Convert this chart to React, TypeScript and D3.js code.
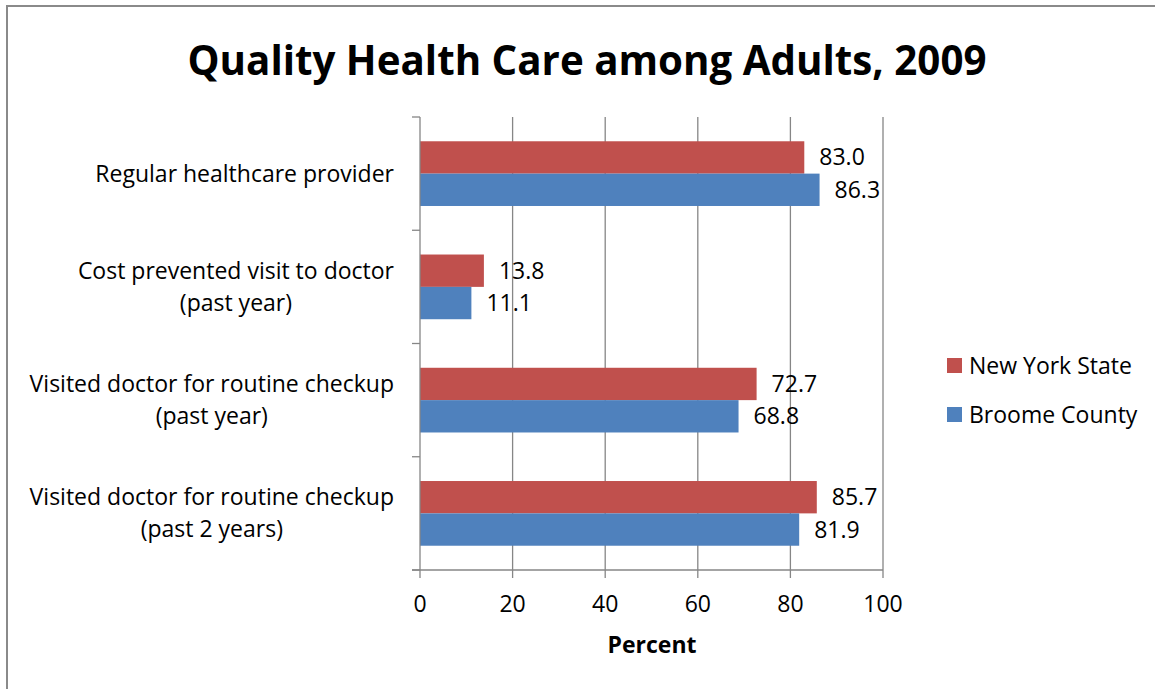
import React from "react";
import * as d3 from "d3";

const categories: string[][] = [
  ["Regular healthcare provider"],
  ["Cost prevented visit to doctor", "(past year)"],
  ["Visited doctor for routine checkup", "(past year)"],
  ["Visited doctor for routine checkup", "(past 2 years)"],
];
const seriesNames = ["New York State", "Broome County"];
const nyValues = [83.0, 13.8, 72.7, 85.7];
const broomeValues = [86.3, 11.1, 68.8, 81.9];
const xTicks = [0, 20, 40, 60, 80, 100];
const colors = ["#C0504D", "#4F81BD"];

const W = 1155;
const H = 689;
const FONT = "'Open Sans', sans-serif";
const FS = 23;

function measure(text: string, size: number, weight = "normal"): number {
  if (typeof document === "undefined") return text.length * size * 0.5;
  const c = document.createElement("canvas").getContext("2d");
  if (!c) return text.length * size * 0.5;
  c.font = `${weight} ${size}px 'Open Sans'`;
  return c.measureText(text).width;
}

export default function App() {
  const left = 420, right = 883, top = 117, bottom = 570;
  const x = d3.scaleLinear().domain([0, 100]).range([left, right]);
  const band = (bottom - top) / categories.length;
  const barH = band / 3.5;
  const inner = d3.scaleBand<number>().domain([0, 1]).range([0, barH * 2]);
  const series = [nyValues, broomeValues];
  const [, force] = React.useState(0);
  React.useEffect(() => {
    (document as any).fonts?.ready?.then(() => force((v) => v + 1));
  }, []);

  return (
    <svg width={W} height={H} style={{ position: "absolute", left: 0, top: 0 }} fontFamily={FONT}>
      <rect x={0} y={0} width={W} height={H} fill="#fff" />
      <rect x={7} y={6} width={W + 10} height={H + 10} fill="none" stroke="#8a8a8a" strokeWidth={2} />
      <text x={587} y={75} textAnchor="middle" fontSize={40.3} fontWeight="bold" fill="#000">
        Quality Health Care among Adults, 2009
      </text>
      {xTicks.slice(1).map((t) => (
        <line key={"g" + t} x1={x(t)} x2={x(t)} y1={top} y2={bottom} stroke="#868686" strokeWidth={1.3} />
      ))}
      {categories.map((_, i) => {
        const b0 = top + i * band + barH * 0.75;
        return series.map((vals, s) => (
          <rect
            key={i + "-" + s}
            x={x(0)}
            y={b0 + (inner(s) as number)}
            width={x(vals[i]) - x(0)}
            height={barH}
            fill={colors[s]}
          />
        ));
      })}
      {categories.map((_, i) => {
        const b0 = top + i * band + barH * 0.75;
        return series.map((vals, s) => (
          <text
            key={"v" + i + "-" + s}
            x={x(vals[i]) + 15}
            y={b0 + (inner(s) as number) + barH / 2}
            dy="0.35em"
            fontSize={FS}
            fill="#000"
          >
            {vals[i].toFixed(1)}
          </text>
        ));
      })}
      <line x1={left} x2={left} y1={top} y2={bottom} stroke="#868686" strokeWidth={1.3} />
      {d3.range(categories.length + 1).map((i) => (
        <line key={"yt" + i} x1={left - 8} x2={left} y1={top + i * band} y2={top + i * band} stroke="#868686" strokeWidth={1.3} />
      ))}
      <line x1={left - 8} x2={right} y1={bottom} y2={bottom} stroke="#868686" strokeWidth={1.3} />
      {xTicks.map((t) => (
        <g key={"xt" + t}>
          <line x1={x(t)} x2={x(t)} y1={bottom} y2={bottom + 8} stroke="#868686" strokeWidth={1.3} />
          <text x={x(t)} y={604} dy="0.35em" textAnchor="middle" fontSize={FS} fill="#000">
            {t}
          </text>
        </g>
      ))}
      <text x={652} y={645} dy="0.35em" textAnchor="middle" fontSize={FS} fontWeight="bold" fill="#000">
        Percent
      </text>
      {categories.map((lines, i) => {
        const cy = top + i * band + band / 2;
        const lh = 32;
        const wMax = Math.max(...lines.map((l) => measure(l, FS)));
        const cx = 394 - wMax / 2;
        return lines.map((ln, k) => (
          <text
            key={"c" + i + "-" + k}
            x={cx}
            y={cy + (k - (lines.length - 1) / 2) * lh}
            dy="0.35em"
            textAnchor="middle"
            fontSize={FS}
            fill="#000"
          >
            {ln}
          </text>
        ));
      })}
      {seriesNames.map((n, s) => (
        <g key={"l" + s}>
          <rect x={947} y={358 + s * 49} width={15} height={15} fill={colors[s]} />
          <text x={969} y={365.5 + s * 49} dy="0.35em" fontSize={FS} fill="#000">
            {n}
          </text>
        </g>
      ))}
    </svg>
  );
}
